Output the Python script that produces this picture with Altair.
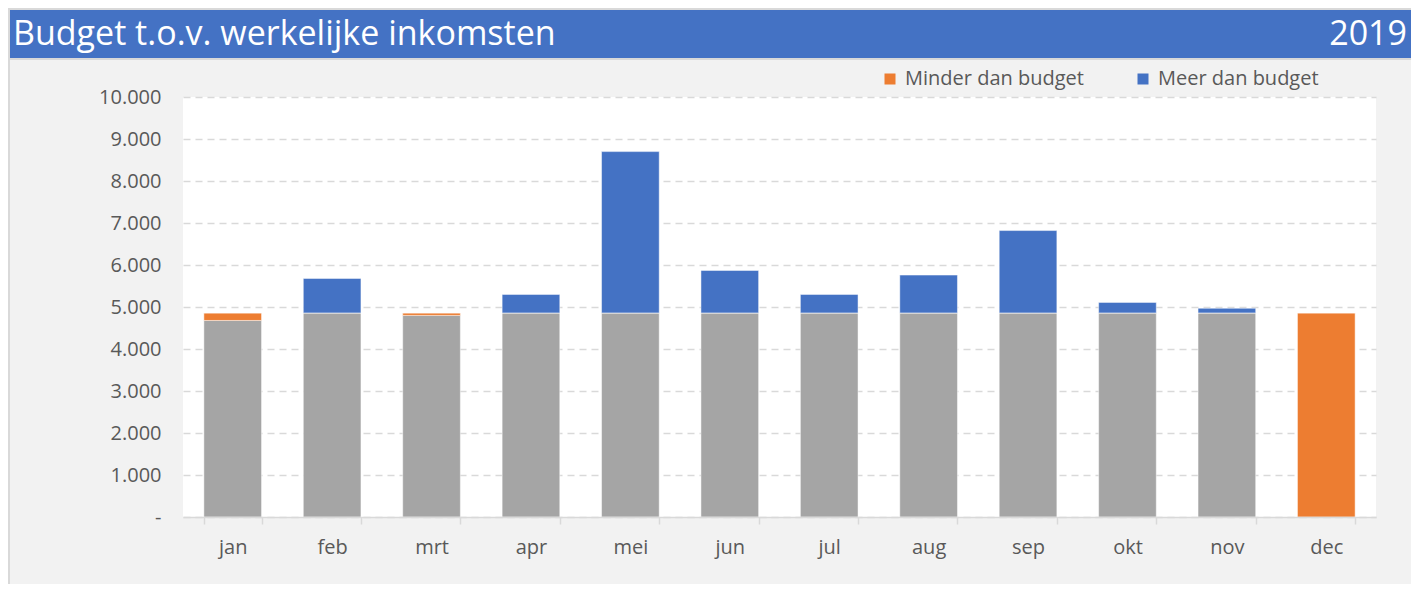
import altair as alt
import pandas as pd

months = ["jan", "feb", "mrt", "apr", "mei", "jun", "jul", "aug", "sep", "okt", "nov", "dec"]
actual = [4680, 5680, 4800, 5300, 8700, 5870, 5300, 5760, 6820, 5110, 4970, 0]
budget = [4860, 4860, 4860, 4860, 4860, 4860, 4860, 4860, 4860, 4860, 4860, 4860]
y_ticks = [0, 1000, 2000, 3000, 4000, 5000, 6000, 7000, 8000, 9000, 10000]
title_text = "Budget t.o.v. werkelijke inkomsten"
year_text = "2019"
cat_base = "Werkelijk"
cat_under = "Minder dan budget"
cat_over = "Meer dan budget"

FONT = "Open Sans"
rows = []
for m, a, b in zip(months, actual, budget):
    rows.append({"maand": m, "cat": cat_base, "waarde": min(a, b), "k": 0})
    rows.append({"maand": m, "cat": cat_under, "waarde": max(b - a, 0), "k": 1})
    rows.append({"maand": m, "cat": cat_over, "waarde": max(a - b, 0), "k": 2})
df = pd.DataFrame(rows)

W, H = 1193, 420
PL, PT, PR, PB = 175, 89, 35, 67

bars = alt.Chart(df).mark_bar(stroke="white", strokeWidth=0.8, strokeOpacity=0.6).encode(
    x=alt.X("maand:N", sort=months, title=None,
            scale=alt.Scale(paddingInner=0.42, paddingOuter=0.21),
            axis=alt.Axis(labelAngle=0, labelFontSize=20, labelColor="#595959", labelFont=FONT,
                          tickBand="extent", tickSize=7, tickColor="#d9d9d9", tickWidth=1.5,
                          domainColor="#d9d9d9", domainWidth=1.5, labelPadding=13, grid=False,
                          zindex=1)),
    y=alt.Y("waarde:Q", stack="zero", title=None,
            scale=alt.Scale(domain=[0, 10000], nice=False),
            axis=alt.Axis(values=y_ticks, ticks=False, domain=False, labelFontSize=20,
                          labelColor="#595959", labelFont=FONT, labelPadding=22,
                          labelExpr="datum.value == 0 ? '-' : replace(format(datum.value, ','), ',', '.')",
                          grid=True, gridColor="#d9d9d9", gridWidth=1.5, gridDash=[7, 5])),
    color=alt.Color("cat:N",
                    scale=alt.Scale(domain=[cat_base, cat_under, cat_over],
                                    range=["#a5a5a5", "#ed7d31", "#4472c4"]),
                    legend=alt.Legend(values=[cat_under, cat_over], title=None, orient="none",
                                      legendX=697, legendY=-28, direction="horizontal",
                                      symbolType="square", symbolSize=121, symbolStrokeWidth=0,
                                      labelFontSize=20, labelColor="#595959", labelFont=FONT,
                                      labelOffset=5, columnPadding=49, labelLimit=400)),
    order=alt.Order("k:Q"),
)

hdr_df = pd.DataFrame({"t": [title_text], "y": [year_text]})

frame = alt.Chart(hdr_df).mark_rect(fillOpacity=0, stroke="#d9d9d9", strokeWidth=3, clip=False).encode(
    x=alt.value(-PL + 0.5), x2=alt.value(W + PR + 10), y=alt.value(-PT + 0.5), y2=alt.value(H + PB + 10)
)
band = alt.Chart(hdr_df).mark_rect(fill="#4472c4", stroke="#d9d9d9", strokeWidth=2, clip=False).encode(
    x=alt.value(-PL + 1), x2=alt.value(W + PR + 10), y=alt.value(-PT + 1), y2=alt.value(-38)
)
title = alt.Chart(hdr_df).mark_text(align="left", baseline="middle", fontSize=34, font=FONT,
                                    color="white", clip=False).encode(
    x=alt.value(-170), y=alt.value(-62), text="t:N"
)
year = alt.Chart(hdr_df).mark_text(align="right", baseline="middle", fontSize=34, font=FONT,
                                   color="white", clip=False).encode(
    x=alt.value(W + PR - 4), y=alt.value(-62), text="y:N"
)

chart = alt.layer(bars, frame, band, title, year).properties(
    width=W, height=H,
    autosize=alt.AutoSizeParams(type="none"),
    padding={"left": PL, "top": PT, "right": PR, "bottom": PB},
    background="#f2f2f2",
).configure_view(strokeWidth=0, fill="white")

chart.save("out.html", embed_options={"renderer": "svg", "actions": False})
